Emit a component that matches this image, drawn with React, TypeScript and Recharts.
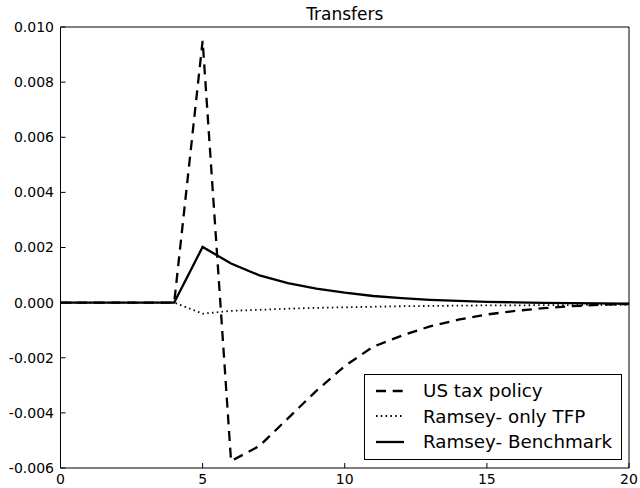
import { Label, Legend, Line, LineChart, XAxis, YAxis } from "recharts";

const periods = [0, 1, 2, 3, 4, 5, 6, 7, 8, 9, 10, 11, 12, 13, 14, 15, 16, 17, 18, 19, 20];
const usTax = [
  0, 0, 0, 0, 0, 0.0095, -0.00575, -0.0052, -0.0042, -0.0032, -0.0023, -0.0016, -0.0012,
  -0.00086, -0.00062, -0.00043, -0.0003, -0.0002, -0.00013, -0.00008, -0.00005,
];
const onlyTfp = [
  0, 0, 0, 0, 0, -0.0004, -0.0003, -0.00026, -0.00022, -0.00019, -0.00017, -0.00015, -0.00013,
  -0.00012, -0.00011, -0.0001, -0.0001, -0.00009, -0.00009, -0.00008, -0.00008,
];
const benchmark = [
  0, 0, 0, 0, 0, 0.00202, 0.00142, 0.00099, 0.00071, 0.00051, 0.00036, 0.00024, 0.00016,
  0.0001, 0.00006, 0.00003, 0.00001, -0.00001, -0.00002, -0.00003, -0.00004,
];
const seriesNames = ["US tax policy", "Ramsey- only TFP", "Ramsey- Benchmark"];
const xTicks = [0, 5, 10, 15, 20];
const yTicks = [-0.006, -0.004, -0.002, 0, 0.002, 0.004, 0.006, 0.008, 0.01];

const data = periods.map((p, i) => ({
  t: p,
  us: usTax[i],
  tfp: onlyTfp[i],
  bench: benchmark[i],
}));

const FONT = "'DejaVu Sans', sans-serif";
const DASH = "10 6.7";
const DOT = "1.5 3.3";

function LegendBox({ payload }: any) {
  const items = (payload || [])
    .filter((p: any) => seriesNames.includes(p.value))
    .sort((a: any, b: any) => seriesNames.indexOf(a.value) - seriesNames.indexOf(b.value));
  return (
    <div
      style={{
        boxSizing: "border-box",
        width: 258,
        height: 86,
        border: "1px solid #000",
        background: "#fff",
        padding: "3px 0 0 10px",
        fontFamily: FONT,
        fontSize: 18.3,
        color: "#000",
      }}
    >
      {items.map((p: any) => (
        <div key={p.value} style={{ display: "flex", alignItems: "center", height: 25.5 }}>
          <svg width={30} height={10} style={{ marginRight: 18 }}>
            <line
              x1={1}
              x2={29}
              y1={5}
              y2={5}
              stroke="#000"
              strokeWidth={p.payload.strokeWidth}
              strokeDasharray={p.payload.strokeDasharray}
            />
          </svg>
          <span>{p.value}</span>
        </div>
      ))}
    </div>
  );
}

export default function App() {
  return (
    <div style={{ position: "absolute", left: 0, top: 0, width: 640, height: 488, background: "#fff" }}>
      <LineChart
        width={640}
        height={488}
        data={data}
        margin={{ top: 26, right: 10, bottom: 0, left: 0.5 }}
        style={{ fontFamily: FONT }}
      >
        <XAxis
          dataKey="t"
          type="number"
          domain={[0, 20]}
          ticks={xTicks}
          height={20}
          allowDataOverflow
          stroke="#000"
          tickSize={-5}
          tickMargin={11}
          tick={{ fill: "#000", fontSize: 14 }}
          interval={0}
        />
        <XAxis
          xAxisId="top"
          dataKey="t"
          orientation="top"
          type="number"
          domain={[0, 20]}
          ticks={xTicks}
          height={1}
          allowDataOverflow
          stroke="#000"
          tickSize={-5}
          tick={false}
          interval={0}
        >
          <Label value="Transfers" position="top" offset={6} fill="#000" fontSize={17} />
        </XAxis>
        <YAxis
          type="number"
          domain={[-0.006, 0.01]}
          ticks={yTicks}
          width={60}
          allowDataOverflow
          stroke="#000"
          tickSize={-5}
          tickMargin={11.5}
          tick={{ fill: "#000", fontSize: 14 }}
          tickFormatter={(v: number) => v.toFixed(3)}
          interval={0}
        />
        <YAxis
          yAxisId="right"
          orientation="right"
          type="number"
          domain={[-0.006, 0.01]}
          ticks={yTicks}
          width={1}
          allowDataOverflow
          stroke="#000"
          tickSize={-5}
          tick={false}
          interval={0}
        />
        <Legend
          layout="vertical"
          align="center"
          verticalAlign="middle"
          wrapperStyle={{ left: 364, top: 374, width: 258, height: 86 }}
          content={LegendBox}
        />
        {/* invisible series so the top/right frame axes get rendered */}
        <Line
          xAxisId="top"
          yAxisId="right"
          dataKey="bench"
          stroke="none"
          legendType="none"
          dot={false}
          activeDot={false}
          isAnimationActive={false}
        />
        <Line
          dataKey="us"
          name="US tax policy"
          type="linear"
          stroke="#000"
          strokeWidth={2.3}
          strokeDasharray={DASH}
          dot={false}
          isAnimationActive={false}
        />
        <Line
          dataKey="tfp"
          name="Ramsey- only TFP"
          type="linear"
          stroke="#000"
          strokeWidth={1.8}
          strokeDasharray={DOT}
          dot={false}
          isAnimationActive={false}
        />
        <Line
          dataKey="bench"
          name="Ramsey- Benchmark"
          type="linear"
          stroke="#000"
          strokeWidth={2.3}
          dot={false}
          isAnimationActive={false}
        />
      </LineChart>
    </div>
  );
}
